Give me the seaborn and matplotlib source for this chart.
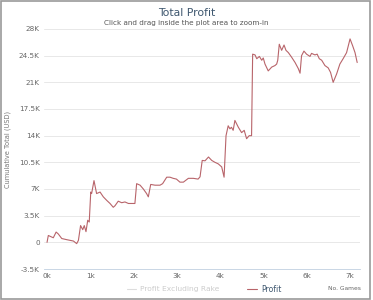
import matplotlib
matplotlib.use("Agg")
import matplotlib.pyplot as plt
import seaborn as sns
import pandas as pd
from matplotlib.lines import Line2D
from matplotlib.patches import Rectangle

games = [0, 30, 145, 210, 260, 340, 455, 610, 685, 725, 775, 825, 860, 900, 940, 975,
         1010, 1030, 1085, 1145, 1225, 1300, 1380, 1455, 1530, 1570, 1645, 1725, 1800,
         1880, 1980, 2030, 2070, 2150, 2225, 2300, 2340, 2395, 2495, 2610, 2670, 2765,
         2840, 2915, 2990, 3070, 3150, 3265, 3380, 3490, 3535, 3585, 3650, 3730, 3805,
         3880, 3955, 4035, 4090, 4135, 4185, 4225, 4260, 4300, 4340, 4420, 4495, 4555,
         4610, 4670, 4725, 4750, 4805, 4845, 4905, 4960, 4995, 5035, 5110, 5190, 5265,
         5305, 5330, 5365, 5420, 5475, 5520, 5575, 5650, 5730, 5805, 5845, 5880, 5935,
         5995, 6075, 6110, 6190, 6240, 6290, 6345, 6420, 6495, 6550, 6610, 6690, 6765,
         6840, 6920, 6960, 7000, 7060, 7115, 7165]
profit = [0, 900, 600, 1350, 1100, 500, 350, 170, -170, 260, 2200, 1660, 2200, 1400,
          2900, 2660, 6600, 6400, 8100, 6400, 6600, 5970, 5500, 5100, 4600, 4800, 5400,
          5200, 5300, 5100, 5100, 5100, 7700, 7500, 7000, 6400, 5970, 7600, 7500, 7500,
          7700, 8550, 8550, 8400, 8300, 7900, 7900, 8400, 8400, 8300, 8600, 10750, 10700,
          11200, 10750, 10500, 10300, 9900, 8550, 14000, 15300, 14900, 15100, 14700,
          16000, 15100, 14400, 14700, 13600, 14000, 14000, 24700, 24600, 24100, 24400,
          23900, 24200, 23400, 22500, 23000, 23200, 23400, 23900, 26000, 25200, 25900,
          25200, 24900, 24300, 23600, 22800, 22200, 24500, 25100, 24700, 24400, 24800,
          24600, 24700, 24100, 23900, 23200, 22900, 22300, 21000, 22100, 23400, 24100,
          24900, 25800, 26700, 25800, 24900, 23600]

y_ticks = [-3500, 0, 3500, 7000, 10500, 14000, 17500, 21000, 24500, 28000]
y_labels = ["-3.5K", "0", "3.5K", "7K", "10.5K", "14K", "17.5K", "21K", "24.5K", "28K"]
x_ticks = [0, 1000, 2000, 3000, 4000, 5000, 6000, 7000]
x_labels = ["0k", "1k", "2k", "3k", "4k", "5k", "6k", "7k"]

df = pd.DataFrame({"games": games, "profit": profit})

sns.set_theme(style="white")
plt.rcParams["font.family"] = ["DejaVu Sans"]

fig = plt.figure(figsize=(3.73, 3.00), dpi=100)
ax = fig.add_axes([44/373, 1-269/300, (360-44)/373, (269-29)/300])

line_color = "#b8646a"
sns.lineplot(data=df, x="games", y="profit", ax=ax, color=line_color, linewidth=0.8)

ax.set_ylim(-3500, 28000)
ax.set_xlim(-70, 7230)
ax.set_yticks(y_ticks)
ax.set_yticklabels(y_labels)
ax.set_xticks(x_ticks)
ax.set_xticklabels(x_labels)
ax.tick_params(axis="both", length=0, labelsize=5.2, colors="#666666", pad=3)
ax.grid(axis="y", color="#e8e8e8", linewidth=0.7)
ax.grid(axis="x", visible=False)
for s in ["top", "right", "left"]:
    ax.spines[s].set_visible(False)
ax.spines["bottom"].set_color("#c0d0e0")
ax.spines["bottom"].set_linewidth(0.6)
ax.set_xlabel("")
ax.set_ylabel("Cumulative Total (USD)", fontsize=4.8, color="#777777")
ax.yaxis.set_label_coords((11-44)/316, 0.5)

fig.text(0.5, 0.957, "Total Profit", ha="center", va="center", fontsize=7.8, color="#3e576f")
fig.text(0.5, 0.925, "Click and drag inside the plot area to zoom-in", ha="center",
         va="center", fontsize=5.2, color="#555555")

# legend
fig.add_artist(Line2D([127/373, 136/373], [1-289/300]*2, color="#dddddd", linewidth=0.8))
fig.text(140/373, 1-289/300, "Profit Excluding Rake", ha="left", va="center",
         fontsize=5.4, color="#cccccc")
fig.add_artist(Line2D([247/373, 257/373], [1-289/300]*2, color=line_color, linewidth=0.8))
fig.text(261/373, 1-289/300, "Profit", ha="left", va="center", fontsize=5.6, color="#3e576f")
fig.text(361/373, 1-289/300, "No. Games", ha="right", va="center", fontsize=4.3, color="#666666")

fig.add_artist(Rectangle((0.002, 0.004), 0.991, 0.994, transform=fig.transFigure,
                         fill=False, edgecolor="#999999", linewidth=1.2))

fig.savefig("out.png", dpi=100)
